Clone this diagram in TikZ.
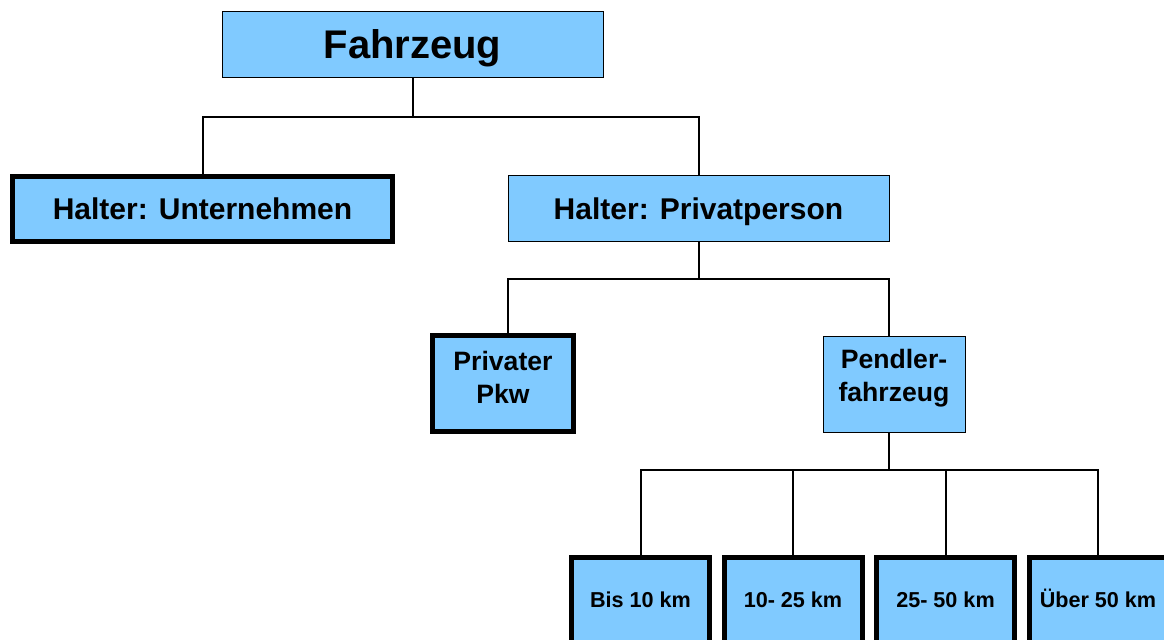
\documentclass[tikz,border=0pt]{standalone}
\usepackage{fontspec}
\setmainfont{Liberation Sans}
\usetikzlibrary{positioning}
\definecolor{hellblau}{RGB}{128,202,255}

\begin{document}
\begin{tikzpicture}[x=0.5pt, y=-0.5pt,
  box/.style = {draw, fill=hellblau, line width=0.5pt, inner sep=0pt, align=center},
  bbox/.style = {box, line width=2.5pt},
  ast/.style = {line width=1pt}]
\useasboundingbox (0,0) rectangle (1164,639);
\node[box, minimum width=190.5pt, minimum height=33pt, text height=14.3pt, text depth=0pt, font=\bfseries\fontsize{20}{24}\selectfont](f) at (412.5,44){Fahrzeug};
\node[bbox, minimum width=190pt, minimum height=32.5pt, text height=10.7pt, text depth=0pt, font=\bfseries\fontsize{15}{18}\selectfont](u) at (202.5,208.5){Halter: Unternehmen};
\node[box, minimum width=190.5pt, minimum height=33pt, text height=10.7pt, text depth=0pt, font=\bfseries\fontsize{15}{18}\selectfont](p) at (698.5,208.5){Halter: Privatperson};
\node[bbox, minimum width=70.5pt, minimum height=48pt, text depth=6pt, font=\bfseries\fontsize{13.3}{16.5}\selectfont](pkw) at (503,383.5){Privater\\Pkw};
\node[box, minimum width=71pt, minimum height=48pt, text depth=8.6pt, font=\bfseries\fontsize{13.3}{16.5}\selectfont](pend) at (894,384){Pendler-\\fahrzeug};
\node[bbox, minimum width=69pt, minimum height=43pt, text height=7.8pt, text depth=0pt, font=\bfseries\fontsize{10.8}{13}\selectfont](k1) at (640.5,600){Bis 10 km};
\node[bbox, minimum width=69pt, minimum height=43pt, text height=7.8pt, text depth=0pt, font=\bfseries\fontsize{10.8}{13}\selectfont](k2) at (793,600){10- 25 km};
\node[bbox, minimum width=69pt, minimum height=43pt, text height=7.8pt, text depth=0pt, font=\bfseries\fontsize{10.8}{13}\selectfont](k3) at (945.5,600){25- 50 km};
\node[bbox, minimum width=69pt, minimum height=43pt, text height=7.8pt, text depth=0pt, font=\bfseries\fontsize{10.8}{13}\selectfont](k4) at (1098,600){Über 50 km};
\coordinate (j1) at (412.5,117);
\coordinate (j2) at (698.5,279);
\coordinate (j3) at (889,470);
\draw[ast] (f.south) -- (j1);
\draw[ast] (u.north) |- (j1) -| (p.north);
\draw[ast] (p.south) -- (j2);
\draw[ast] ([xshift=2.5pt]pkw.north) |- (j2) -| ([xshift=-2.5pt]pend.north);
\draw[ast] ([xshift=-2.5pt]pend.south) -- (j3);
\draw[ast] (k1.north) |- (j3) -| (k4.north);
\draw[ast] (k2.north) -- (k2.north |- j3);
\draw[ast] (k3.north) -- (k3.north |- j3);
\end{tikzpicture}
\end{document}
